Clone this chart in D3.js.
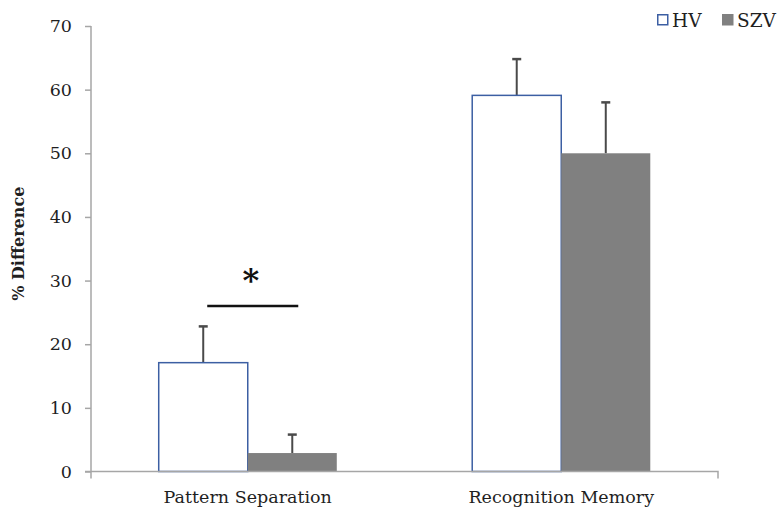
<!DOCTYPE html>
<html>
<head>
<meta charset="utf-8">
<script src="https://cdn.jsdelivr.net/npm/d3@7"></script>
<style>
  html, body { margin: 0; padding: 0; background: #fff; }
  svg { display: block; }
</style>
</head>
<body>
<svg id="chart" width="783" height="510" font-family="DejaVu Serif"></svg>
<script>
// data
const categories = ["Pattern Separation", "Recognition Memory"];
const groups = ["HV", "SZV"];
const hvValues = [17.1, 59.1];
const szvValues = [2.9, 50.0];
const hvErrors = [5.7, 5.7];
const szvErrors = [2.9, 8.0];
const yTicks = [0, 10, 20, 30, 40, 50, 60, 70];

const serif = "DejaVu Serif";
const svg = d3.select("#chart");
const plotLeft = 91, plotRight = 718, plotTop = 26, plotBottom = 471.5;

const y = d3.scaleLinear().domain([0, 70]).range([plotBottom, plotTop]);
const x0 = d3.scaleBand().domain(categories).range([plotLeft, plotRight])
    .paddingInner(0.432).paddingOuter(0.216);
const x1 = d3.scaleBand().domain(groups).range([0, x0.bandwidth()]);

const rows = categories.map((c, i) => ({
    cat: c,
    bars: [
        { g: "HV", v: hvValues[i], e: hvErrors[i] },
        { g: "SZV", v: szvValues[i], e: szvErrors[i] }
    ]
}));

// y axis
const yAxis = svg.append("g")
    .attr("transform", `translate(${plotLeft},0)`)
    .call(d3.axisLeft(y).tickValues(yTicks).tickSize(6).tickPadding(13));
yAxis.attr("font-family", serif);
yAxis.select(".domain").attr("stroke", "#a6a6a6").attr("stroke-width", 1.5)
    .attr("d", `M0,${plotTop}V${plotBottom + 7}`);
yAxis.selectAll(".tick line").attr("stroke", "#a6a6a6").attr("stroke-width", 1.5);
yAxis.selectAll(".tick text").attr("font-size", 17.5).attr("fill", "#1f1f1f");

svg.append("text")
    .attr("transform", `translate(24,${(plotTop + plotBottom) / 2 - 5}) rotate(-90)`)
    .attr("text-anchor", "middle")
    .attr("font-family", serif)
    .attr("font-size", 16)
    .attr("font-weight", "bold")
    .attr("fill", "#1f1f1f")
    .text("% Difference");

// bars
const grp = svg.selectAll("g.cat").data(rows).enter().append("g")
    .attr("class", "cat")
    .attr("transform", d => `translate(${x0(d.cat)},0)`);

grp.selectAll("line.err").data(d => d.bars).enter().append("line")
    .attr("class", "err")
    .attr("x1", d => x1(d.g) + x1.bandwidth() / 2)
    .attr("x2", d => x1(d.g) + x1.bandwidth() / 2)
    .attr("y1", d => y(d.v))
    .attr("y2", d => y(d.v + d.e))
    .attr("stroke", "#4a4a4a").attr("stroke-width", 2);

grp.selectAll("line.cap").data(d => d.bars).enter().append("line")
    .attr("class", "cap")
    .attr("x1", d => x1(d.g) + x1.bandwidth() / 2 - 4.5)
    .attr("x2", d => x1(d.g) + x1.bandwidth() / 2 + 4.5)
    .attr("y1", d => y(d.v + d.e))
    .attr("y2", d => y(d.v + d.e))
    .attr("stroke", "#4a4a4a").attr("stroke-width", 2.5);

grp.selectAll("rect").data(d => d.bars).enter().append("rect")
    .attr("x", d => x1(d.g))
    .attr("y", d => y(d.v))
    .attr("width", x1.bandwidth())
    .attr("height", d => plotBottom - y(d.v))
    .attr("fill", d => d.g === "HV" ? "#ffffff" : "#808080")
    .attr("stroke", d => d.g === "HV" ? "#3c5fa3" : "none")
    .attr("stroke-width", 1.5);

// x axis
svg.append("path")
    .attr("d", `M${plotLeft - 6},${plotBottom}H${plotRight}V${plotBottom + 7}`)
    .attr("fill", "none").attr("stroke", "#a6a6a6").attr("stroke-width", 1.5);

svg.selectAll("text.xlab").data(categories).enter().append("text")
    .attr("class", "xlab")
    .attr("x", d => x0(d) + x0.bandwidth() / 2)
    .attr("y", 503)
    .attr("text-anchor", "middle")
    .attr("font-family", serif)
    .attr("font-size", 17.5)
    .attr("fill", "#1f1f1f")
    .text(d => d);

// significance marker over Pattern Separation
const c0 = x0(categories[0]);
const sigX1 = c0 + x1("HV") + x1.bandwidth() / 2 + 4;
const sigX2 = c0 + x1("SZV") + x1.bandwidth() / 2 + 6;
svg.append("line")
    .attr("x1", sigX1).attr("x2", sigX2)
    .attr("y1", y(26)).attr("y2", y(26))
    .attr("stroke", "#111").attr("stroke-width", 2.5);
svg.append("text")
    .attr("x", (sigX1 + sigX2) / 2 - 2)
    .attr("y", y(26) - 15)
    .attr("text-anchor", "middle")
    .attr("font-family", serif)
    .attr("font-size", 32)
    .attr("font-weight", "bold")
    .attr("fill", "#111")
    .text("*");

// legend
const legend = svg.append("g").attr("transform", "translate(657,14)");
const legX = [0, 65];
legend.selectAll("rect").data(groups).enter().append("rect")
    .attr("x", (d, i) => legX[i] + 0.75)
    .attr("y", 0.75)
    .attr("width", 10).attr("height", 10)
    .attr("fill", d => d === "HV" ? "#ffffff" : "#808080")
    .attr("stroke", d => d === "HV" ? "#3c5fa3" : "#808080")
    .attr("stroke-width", 1.5);
legend.selectAll("text").data(groups).enter().append("text")
    .attr("x", (d, i) => legX[i] + 15)
    .attr("y", 12.5)
    .attr("font-family", serif)
    .attr("font-size", 18.5)
    .attr("fill", "#1f1f1f")
    .text(d => d);
</script>
</body>
</html>
